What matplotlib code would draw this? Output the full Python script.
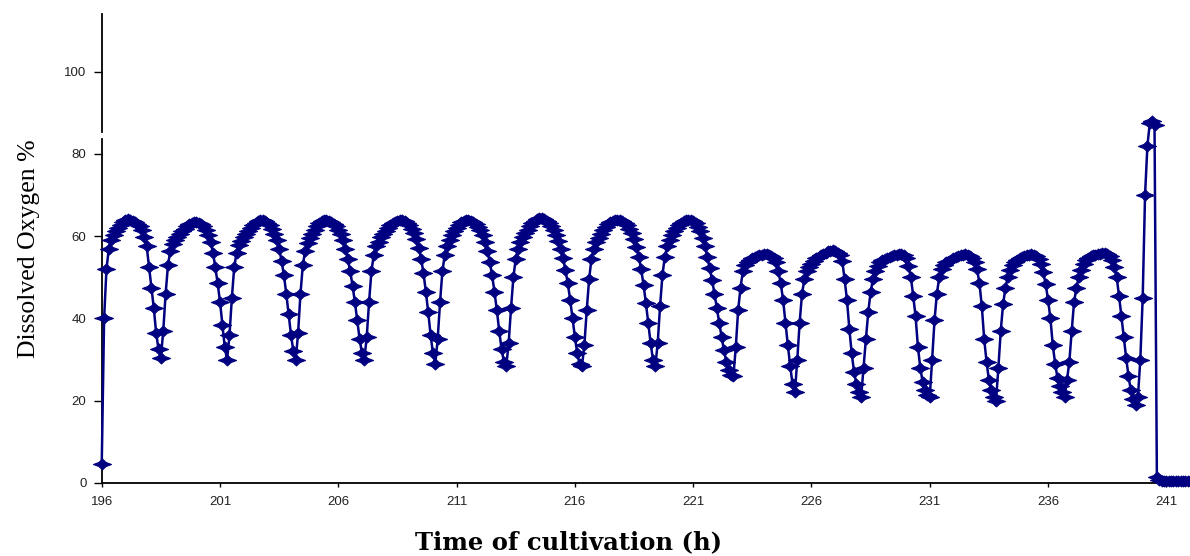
import numpy as np
import matplotlib
matplotlib.use('Agg')
import matplotlib.pyplot as plt
from matplotlib.path import Path

# dissolved oxygen (%), one reading every 0.1 h starting at 196 h
t_start = 196.0
t_step = 0.1

do_196 = [4.6, 40, 52, 57, 59, 60.3, 61.2, 62, 62.8, 63.4,
          63.9, 64.2, 64, 63.8, 63.4, 63, 62.4, 61.4, 59.8, 57.5,
          52.5, 47.5, 42.5, 36.5, 32.5, 30.5, 37, 46, 53, 56.5,
          58, 59, 59.8, 60.5, 61.2, 61.8, 62.4, 62.9, 63.3, 63.5,
          63.4, 63.2, 62.9, 62.4, 61.6, 60.4, 58.6, 56, 52.5, 48.5,
          44, 38.5, 33, 30, 36, 45, 52.5, 56, 57.8, 58.8,
          59.7, 60.5, 61.3, 62, 62.7, 63.3, 63.7, 64, 63.9, 63.6,
          63.2, 62.6, 61.8, 60.6, 59, 57, 54, 50.5, 46, 41,
          36, 32, 30, 36.5, 46, 53, 56.5, 58.3, 59.5, 60.6,
          61.6, 62.5, 63.2, 63.7, 64, 64, 63.8, 63.5, 63, 62.4]
do_206 = [61.6, 60.5, 59, 57, 54.5, 51.5, 48, 44, 39.5, 35,
          31.5, 30, 35.5, 44, 51.5, 55.5, 57.5, 58.7, 59.7, 60.5,
          61.3, 62, 62.6, 63.1, 63.5, 63.8, 64, 63.9, 63.6, 63.2,
          62.6, 61.8, 60.7, 59.2, 57.2, 54.5, 51, 46.5, 41.5, 36,
          31.5, 29, 35, 44, 51.5, 55.5, 57.5, 59, 60.2, 61.2,
          62, 62.8, 63.4, 63.8, 64, 64, 63.8, 63.5, 63, 62.3,
          61.4, 60.2, 58.6, 56.5, 53.8, 50.5, 46.5, 42, 37, 32.5,
          29.5, 28.5, 34, 42.5, 50, 54.5, 57, 58.5, 59.7, 60.7,
          61.6, 62.4, 63.1, 63.7, 64.2, 64.5, 64.4, 64.1, 63.7, 63.1,
          62.4, 61.5, 60.3, 58.8, 57, 54.6, 51.8, 48.5, 44.5, 40]
do_216 = [35.5, 31.5, 29, 28.5, 33.5, 42, 49.5, 54.5, 57, 58.5,
          59.6, 60.6, 61.5, 62.3, 62.9, 63.4, 63.7, 63.9, 64, 63.9,
          63.6, 63.2, 62.6, 61.8, 60.7, 59.3, 57.4, 55, 52, 48.2,
          43.8, 39, 34, 30, 28.5, 34, 43, 50.5, 55, 57.5,
          59, 60.2, 61.2, 62, 62.7, 63.2, 63.6, 63.9, 64, 63.9,
          63.6, 63.1, 62.3, 61.2, 59.6, 57.5, 55, 52.2, 49.3, 46,
          42.5, 39, 35.5, 32.3, 29.5, 27.5, 26.3, 26, 33, 42,
          47.5, 51.5, 53, 53.8, 54.3, 54.7, 55, 55.2, 55.4, 55.5,
          55.6, 55.6, 55.4, 55.1, 54.6, 53.8, 51.5, 48.5, 44.5, 39,
          33.5, 28.5, 24, 22, 30, 39, 46, 49.5, 51.5, 52.5]
do_226 = [53.3, 54, 54.6, 55, 55.4, 55.7, 56, 56.3, 56.5, 56.6,
          56.4, 56, 55.3, 54, 49.5, 44.5, 37.5, 31.5, 27, 24,
          22, 21, 28, 35, 41.5, 46.5, 49.5, 51.5, 52.8, 53.6,
          54.1, 54.5, 54.8, 55, 55.2, 55.4, 55.5, 55.6, 55.6, 55.4,
          54.6, 52.8, 50, 45.5, 40.5, 33, 28, 24.5, 22.5, 21.3,
          21, 30, 39.5, 46, 50, 52, 53, 53.6, 54, 54.3,
          54.6, 54.9, 55.1, 55.3, 55.5, 55.6, 55.5, 55.2, 54.7, 53.8,
          52, 48.5, 43, 35, 29.5, 25, 22.5, 20.8, 20, 28,
          37, 43.5, 47.5, 50, 51.8, 53, 53.8, 54.3, 54.7, 55,
          55.2, 55.4, 55.5, 55.6, 55.5, 55.1, 54.4, 53.2, 51.2, 48.3]
do_236 = [44.5, 40, 33.5, 29, 25.5, 23.5, 22, 21, 25, 29.5,
          37, 44, 47.5, 50, 51.8, 53.2, 54.2, 54.8, 55.2, 55.4,
          55.5, 55.6, 55.7, 55.8, 55.8, 55.6, 55.2, 54.3, 52.6, 50,
          45.5, 40.5, 35.5, 30.5, 26, 22.5, 20.5, 19, 21, 30,
          45, 70, 82, 87.5, 88, 87, 1.5, 0.8, 0.5, 0.5,
          0.5, 0.5, 0.5, 0.5, 0.5, 0.5, 0.5, 0.5, 0.5, 0.5,
          0.5]

x_ticks = [196, 201, 206, 211, 216, 221, 226, 231, 236, 241]
y_ticks = [0, 20, 40, 60, 80, 100]
y_break = (83.7, 85.2)

do = np.array(do_196 + do_206 + do_216 + do_226 + do_236)
t = t_start + t_step * np.arange(len(do))

plt.rcParams['font.family'] = ['Liberation Sans', 'DejaVu Sans']

# flat, fat four-point star, like the excel marker
star = Path([(-1, 0), (-0.4, 0.22), (0, 0.6), (0.4, 0.22), (1, 0),
             (0.4, -0.22), (0, -0.6), (-0.4, -0.22), (-1, 0)], closed=True)

fig = plt.figure(figsize=(11.9, 5.56), dpi=100)
ax = fig.add_axes([0.0855, 0.1313, 0.9145, 0.8435])

navy = '#000080'
ax.plot(t, do, color=navy, lw=1.8, marker=star, ms=13,
        mec=navy, mfc=navy, mew=0.8, clip_on=False, zorder=3)

ax.set_xlim(196, 242)
ax.set_ylim(0, 114)
ax.set_xticks(x_ticks)
ax.set_yticks(y_ticks)

for s in ['top', 'right', 'left']:
    ax.spines[s].set_visible(False)
ax.spines['bottom'].set_linewidth(1.3)

# broken y axis line
yt = ax.get_yaxis_transform()
ax.plot([0, 0], [0, y_break[0]], transform=yt, color='k', lw=1.3, clip_on=False)
ax.plot([0, 0], [y_break[1], 114], transform=yt, color='k', lw=1.3, clip_on=False)

ax.tick_params(axis='y', direction='out', length=5.5, width=1, pad=5.5,
               labelsize=9.5, labelcolor='#222222')
ax.tick_params(axis='x', direction='out', length=3, width=1, pad=6.5,
               labelsize=9.5, labelcolor='#222222')

ax.set_xlabel('Time of cultivation (h)', family='DejaVu Serif',
              fontweight='bold', fontsize=17.5)
ax.xaxis.set_label_coords(0.4285, -0.1)
ax.set_ylabel('Dissolved Oxygen %', family='Liberation Serif', fontsize=18.5)
ax.yaxis.set_label_coords(-0.0567, 0.5)

fig.savefig('out.png', dpi=100)
